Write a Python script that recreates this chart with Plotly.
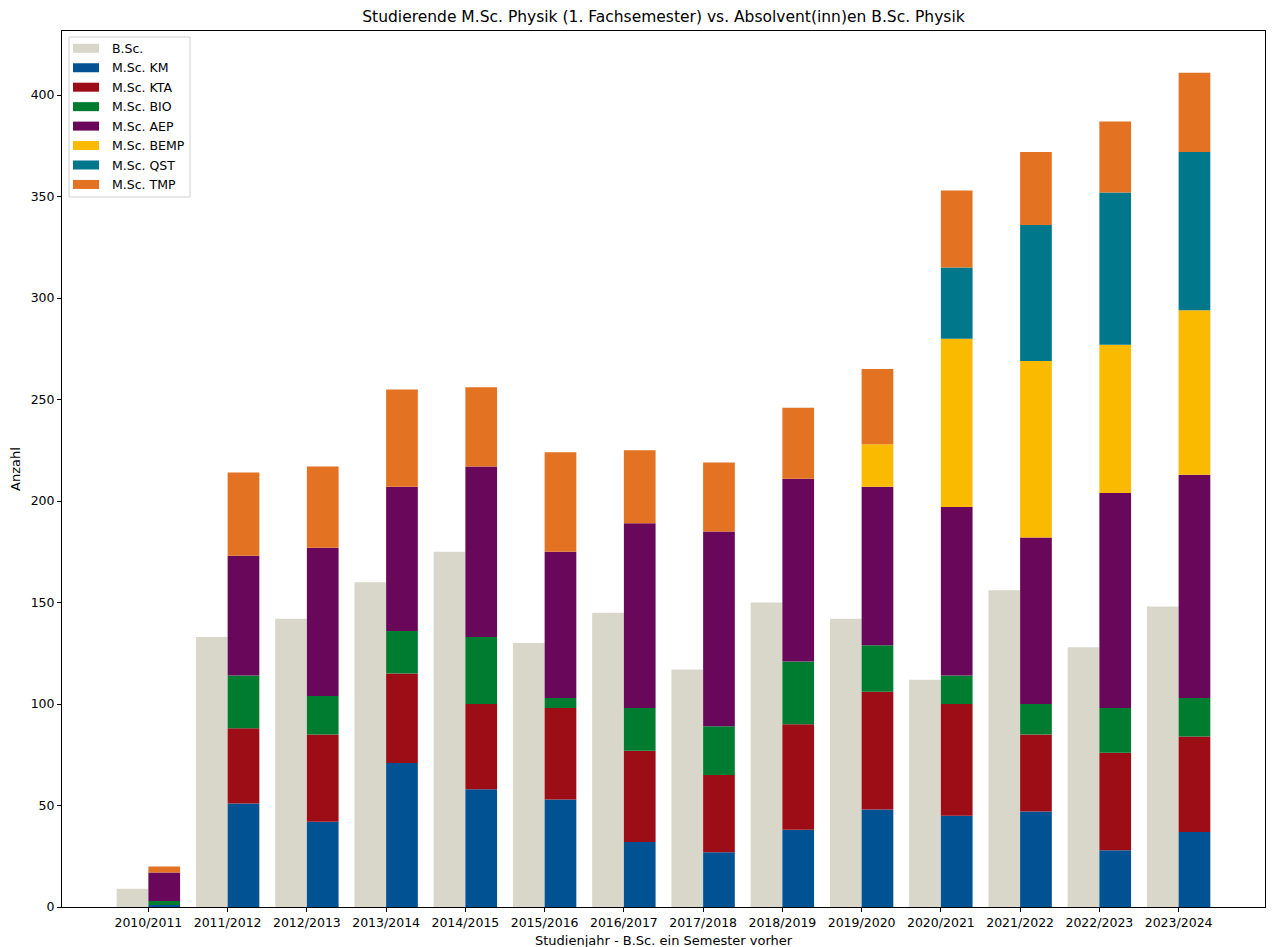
import numpy as np
import plotly.graph_objects as go

# Study years (x categories)
jahre = ["2010/2011", "2011/2012", "2012/2013", "2013/2014", "2014/2015",
         "2015/2016", "2016/2017", "2017/2018", "2018/2019", "2019/2020",
         "2020/2021", "2021/2022", "2022/2023", "2023/2024"]

# B.Sc. graduates (one semester earlier)
bsc = [9, 133, 142, 160, 175, 130, 145, 117, 150, 142, 112, 156, 128, 148]

# M.Sc. first-semester students per programme
msc_km   = [1, 51, 42, 71, 58, 53, 32, 27, 38, 48, 45, 47, 28, 37]
msc_kta  = [0, 37, 43, 44, 42, 45, 45, 38, 52, 58, 55, 38, 48, 47]
msc_bio  = [2, 26, 19, 21, 33, 5, 21, 24, 31, 23, 14, 15, 22, 19]
msc_aep  = [14, 59, 73, 71, 84, 72, 91, 96, 90, 78, 83, 82, 106, 110]
msc_bemp = [0, 0, 0, 0, 0, 0, 0, 0, 0, 21, 83, 87, 73, 81]
msc_qst  = [0, 0, 0, 0, 0, 0, 0, 0, 0, 0, 35, 67, 75, 78]
msc_tmp  = [3, 41, 40, 48, 39, 49, 36, 34, 35, 37, 38, 36, 35, 39]

msc_namen = ["M.Sc. KM", "M.Sc. KTA", "M.Sc. BIO", "M.Sc. AEP",
             "M.Sc. BEMP", "M.Sc. QST", "M.Sc. TMP"]
msc_werte = [msc_km, msc_kta, msc_bio, msc_aep, msc_bemp, msc_qst, msc_tmp]

farbe_bsc = "#D9D7CA"
msc_farben = ["#005293", "#9C0D16", "#007C30", "#69085A",
              "#F9BA00", "#00778A", "#E37222"]

FONT = "DejaVu Sans"
W, H = 1274, 947
ML, MR, MT, MB = 62, 9, 31, 40
x = np.arange(len(jahre))
breite = 0.4

fig = go.Figure()

# B.Sc. bars sit left of each tick
fig.add_trace(go.Bar(
    x=x, y=bsc, offset=-breite, width=breite, name="B.Sc.",
    marker=dict(color=farbe_bsc, line=dict(width=0)),
))

# M.Sc. programmes stacked right of each tick
basis = np.zeros(len(jahre))
for name, werte, farbe in zip(msc_namen, msc_werte, msc_farben):
    werte = np.array(werte, dtype=float)
    fig.add_trace(go.Bar(
        x=x, y=werte, base=basis.copy(), offset=0, width=breite, name=name,
        marker=dict(color=farbe, line=dict(width=0)),
    ))
    basis += werte

ymax = max(basis.max(), max(bsc)) * 1.05

px_w = W - ML - MR
px_h = H - MT - MB


def px2paper(px, py):
    return (px - ML) / px_w, 1 - (py - MT) / px_h


fig.update_layout(
    width=W, height=H,
    barmode="overlay",
    plot_bgcolor="white", paper_bgcolor="white",
    margin=dict(l=ML, r=MR, t=MT, b=MB, autoexpand=False),
    showlegend=False,
    font=dict(family=FONT, size=12, color="#000000"),
    title=dict(
        text="Studierende M.Sc. Physik (1. Fachsemester) vs. Absolvent(inn)en B.Sc. Physik",
        x=(ML + px_w / 2) / W, xanchor="center", y=1 - 17 / H, yanchor="middle",
        font=dict(family=FONT, size=15.5, color="#000000"),
    ),
    xaxis=dict(
        range=[-1.09, len(jahre) - 1 + 1.09],
        tickmode="array", tickvals=x, ticktext=jahre,
        ticks="outside", ticklen=4, tickcolor="#000000",
        showline=True, linecolor="#000000", linewidth=1, mirror=True,
        showgrid=False, zeroline=False, automargin=False,
        tickfont=dict(family=FONT, size=12.5),
    ),
    yaxis=dict(
        range=[0, ymax],
        tickmode="linear", tick0=0, dtick=50,
        ticks="outside", ticklen=4, tickcolor="#000000",
        showline=True, linecolor="#000000", linewidth=1, mirror=True,
        showgrid=False, zeroline=False, automargin=False,
        tickfont=dict(family=FONT, size=12.5),
    ),
)

# Axis titles
ax_x, ax_y = px2paper(ML + px_w / 2, 940)
fig.add_annotation(xref="paper", yref="paper", x=ax_x, y=ax_y,
                   text="Studienjahr - B.Sc. ein Semester vorher", showarrow=False,
                   xanchor="center", yanchor="middle",
                   font=dict(family=FONT, size=13, color="#000000"))
ay_x, ay_y = px2paper(15, MT + px_h / 2)
fig.add_annotation(xref="paper", yref="paper", x=ay_x, y=ay_y,
                   text="Anzahl", showarrow=False, textangle=-90,
                   xanchor="center", yanchor="middle",
                   font=dict(family=FONT, size=13, color="#000000"))

# Legend box in the upper-left corner of the axes
lx0, ly0 = px2paper(69, 37)
lx1, ly1 = px2paper(190, 197)
fig.add_shape(type="rect", xref="paper", yref="paper",
              x0=lx0, y0=ly1, x1=lx1, y1=ly0,
              line=dict(color="#D0D0D0", width=1), fillcolor="rgba(255,255,255,0.85)",
              layer="above")

eintraege = [("B.Sc.", farbe_bsc)] + list(zip(msc_namen, msc_farben))
for i, (name, farbe) in enumerate(eintraege):
    cy = 48.3 + i * 19.45
    sx0, sy0 = px2paper(73, cy - 4.5)
    sx1, sy1 = px2paper(99, cy + 4.5)
    fig.add_shape(type="rect", xref="paper", yref="paper",
                  x0=sx0, y0=sy1, x1=sx1, y1=sy0,
                  line=dict(width=0), fillcolor=farbe, layer="above")
    tx, ty = px2paper(110, cy)
    fig.add_annotation(xref="paper", yref="paper", x=tx, y=ty,
                       text=name, showarrow=False, xanchor="left", yanchor="middle",
                       font=dict(family=FONT, size=12.5, color="#000000"))

fig.write_html("out.html")
